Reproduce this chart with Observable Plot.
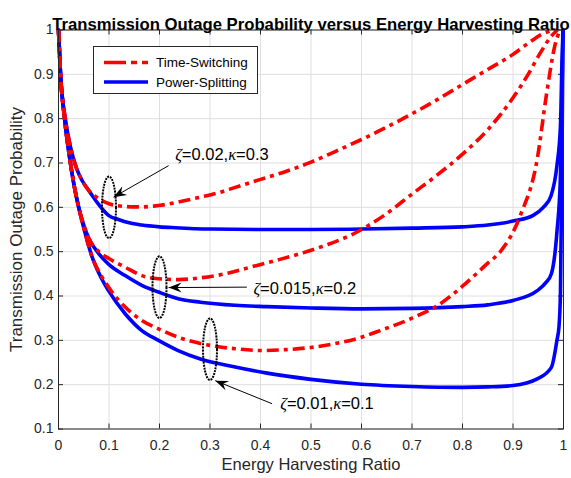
<!DOCTYPE html>
<html><head><meta charset="utf-8">
<script src="https://cdn.jsdelivr.net/npm/d3@7"></script>
<script src="https://cdn.jsdelivr.net/npm/@observablehq/plot@0.6"></script>
<style>
body{margin:0;background:#fff;}
#wrap{position:relative;width:571px;height:478px;font-family:"Liberation Sans",Arial,Helvetica,sans-serif;}
#legend{position:absolute;left:93px;top:46px;width:163px;height:46px;border:1px solid #262626;background:#fff;box-sizing:content-box;}
#legend svg{display:block;}
</style></head><body>
<div id="wrap"><div id="chart"></div><div id="legend"></div></div>
<script>
// ---- data ----
const xTicks = [0,0.1,0.2,0.3,0.4,0.5,0.6,0.7,0.8,0.9,1];
const yTicks = [0.1,0.2,0.3,0.4,0.5,0.6,0.7,0.8,0.9,1];
const seriesNames = ["Time-Switching","Power-Splitting"];
const groupLabels = ["ζ=0.02,κ=0.3","ζ=0.015,κ=0.2","ζ=0.01,κ=0.1"];

// Time-Switching, zeta=0.02, kappa=0.3
const ts03X = [0,0.004,0.0135,0.024,0.035,0.047,0.06,0.072,0.085,0.1,0.115,0.132,0.15,0.165,0.198,0.237,0.281,0.314,0.35,0.4,0.45,0.5,0.55,0.6,0.65,0.7,0.75,0.8,0.85,0.9,0.93,0.956,0.975,0.988];
const ts03Y = [1,0.9,0.8,0.735,0.69,0.66,0.638,0.626,0.616,0.608,0.604,0.602,0.601,0.601,0.604,0.612,0.623,0.632,0.645,0.663,0.681,0.702,0.727,0.753,0.781,0.811,0.843,0.877,0.911,0.945,0.97,0.99,0.998,1];
// Power-Splitting, zeta=0.02, kappa=0.3
const ps03X = [0,0.004,0.0135,0.024,0.035,0.047,0.06,0.066,0.08,0.099,0.12,0.14,0.165,0.2,0.231,0.3,0.4,0.5,0.6,0.7,0.8,0.85,0.9,0.94,0.96,0.975,0.987,0.994,0.997,0.999];
const ps03Y = [1,0.9,0.8,0.735,0.69,0.66,0.638,0.628,0.606,0.582,0.572,0.565,0.56,0.556,0.554,0.551,0.55,0.55,0.551,0.553,0.556,0.56,0.569,0.582,0.6,0.625,0.694,0.785,0.93,1];
// Time-Switching, zeta=0.015, kappa=0.2
const ts02X = [0,0.004,0.012,0.021,0.03,0.04,0.05,0.06,0.08,0.099,0.132,0.165,0.198,0.237,0.281,0.33,0.38,0.43,0.48,0.53,0.58,0.645,0.7,0.75,0.8,0.85,0.9,0.93,0.955,0.975,0.988];
const ts02Y = [1,0.9,0.8,0.72,0.655,0.6,0.56,0.53,0.5,0.485,0.465,0.446,0.439,0.437,0.441,0.45,0.465,0.48,0.496,0.515,0.538,0.582,0.63,0.673,0.72,0.775,0.847,0.9,0.95,0.985,1];
// Power-Splitting, zeta=0.015, kappa=0.2
const ps02X = [0,0.004,0.012,0.021,0.03,0.04,0.05,0.06,0.08,0.099,0.132,0.165,0.198,0.237,0.281,0.35,0.413,0.5,0.6,0.7,0.8,0.85,0.9,0.948,0.965,0.976,0.987,0.994,0.997,0.999];
const ps02Y = [1,0.9,0.8,0.72,0.655,0.6,0.56,0.53,0.495,0.472,0.446,0.424,0.409,0.394,0.386,0.379,0.376,0.373,0.371,0.372,0.376,0.38,0.39,0.412,0.43,0.45,0.544,0.672,0.85,1];
// Time-Switching, zeta=0.01, kappa=0.1
const ts01X = [0,0.004,0.012,0.021,0.03,0.04,0.052,0.066,0.085,0.099,0.132,0.165,0.198,0.237,0.281,0.314,0.35,0.4,0.45,0.5,0.545,0.6,0.637,0.7,0.75,0.8,0.85,0.875,0.915,0.948,0.967,0.983,0.993];
const ts01Y = [1,0.9,0.8,0.72,0.655,0.6,0.545,0.49,0.445,0.42,0.375,0.345,0.326,0.307,0.293,0.286,0.281,0.277,0.279,0.284,0.292,0.307,0.322,0.35,0.378,0.422,0.474,0.5,0.583,0.709,0.86,0.965,1];
// Power-Splitting, zeta=0.01, kappa=0.1
const ps01X = [0,0.004,0.012,0.021,0.03,0.04,0.052,0.066,0.085,0.099,0.132,0.165,0.198,0.237,0.281,0.35,0.413,0.5,0.6,0.7,0.8,0.85,0.9,0.948,0.976,0.987,0.991,0.994,0.997,0.999];
const ps01Y = [1,0.9,0.8,0.72,0.655,0.6,0.545,0.49,0.44,0.412,0.36,0.322,0.3,0.277,0.258,0.24,0.226,0.212,0.201,0.196,0.194,0.195,0.198,0.213,0.239,0.3,0.33,0.409,0.71,1];

// annotation anchors (data coordinates): ellipse centres, arrows, label positions
const ellX = [0.1,0.2,0.3];
const ellY = [0.6,0.42,0.28];
const arrowTailX = [0.218,0.373,0.423];
const arrowTailY = [0.694,0.42,0.157];
const arrowTipX = [0.109,0.218,0.3105];
const arrowTipY = [0.623,0.419,0.209];
const labelX = [0.231,0.386,0.439];
const labelY = [0.719,0.417,0.157];

// ---- build ----
const W=571,H=478,mL=58,mR=8,mT=29.5,mB=49.5;
const plotW=W-mL-mR, plotH=H-mT-mB;
const font='"Liberation Sans", Arial, Helvetica, sans-serif';
const RED="#ff0000", BLUE="#0000ff", INK="#262626";

function rows(xs,ys,name){return xs.map((x,i)=>({x, y:ys[i], series:name}));}
const tsRows = [...rows(ts03X,ts03Y,"ts03"),...rows(ts02X,ts02Y,"ts02"),...rows(ts01X,ts01Y,"ts01")];
const psRows = [...rows(ps03X,ps03Y,"ps03"),...rows(ps02X,ps02Y,"ps02"),...rows(ps01X,ps01Y,"ps01")];

const ellipseSymbol = {draw(ctx){
  const rx=7, ry=30.8, k=0.5523;
  ctx.moveTo(rx,0);
  ctx.bezierCurveTo(rx,ry*k,rx*k,ry,0,ry);
  ctx.bezierCurveTo(-rx*k,ry,-rx,ry*k,-rx,0);
  ctx.bezierCurveTo(-rx,-ry*k,-rx*k,-ry,0,-ry);
  ctx.bezierCurveTo(rx*k,-ry,rx,-ry*k,rx,0);
  ctx.closePath();
}};
function arrowHead(ang){
  const L=13,Wd=10,N=8.5,c=Math.cos(ang),s=Math.sin(ang);
  const pts=[[0,0],[-L,-Wd/2],[-N,0],[-L,Wd/2]].map(([x,y])=>[x*c-y*s,x*s+y*c]);
  return {draw(ctx){ctx.moveTo(pts[0][0],pts[0][1]);for(let i=1;i<pts.length;i++)ctx.lineTo(pts[i][0],pts[i][1]);ctx.closePath();}};
}
const kx=plotW/1, ky=plotH/0.9;
const ellData = ellX.map((x,i)=>({x,y:ellY[i]}));
const arrows = arrowTailX.map((x1,i)=>({x1,y1:arrowTailY[i],x2:arrowTipX[i],y2:arrowTipY[i]}));
const labels = groupLabels.map((t,i)=>({t,x:labelX[i],y:labelY[i]}));

const headMarks = arrows.map(a=>{
  const ang=Math.atan2(-(a.y2-a.y1)*ky,(a.x2-a.x1)*kx);
  return Plot.dot([a],{x:"x2",y:"y2",symbol:arrowHead(ang),r:4,fill:"#000",stroke:"none"});
});

const svg = Plot.plot({
  width:W,height:H,marginLeft:mL,marginRight:mR,marginTop:mT,marginBottom:mB,
  style:{fontFamily:font,fontSize:"14px",color:INK,background:"#fff",overflow:"visible"},
  x:{domain:[0,1]}, y:{domain:[0.1,1]},
  marks:[
    Plot.gridX(xTicks,{stroke:"#dfdfdf",strokeOpacity:1}),
    Plot.gridY(yTicks,{stroke:"#dfdfdf",strokeOpacity:1}),
    Plot.tickX(xTicks,{x:d=>d,insetTop:plotH-5,stroke:INK}),
    Plot.tickX(xTicks,{x:d=>d,insetBottom:plotH-5,stroke:INK}),
    Plot.tickY(yTicks,{y:d=>d,insetRight:plotW-5,stroke:INK}),
    Plot.tickY(yTicks,{y:d=>d,insetLeft:plotW-5,stroke:INK}),
    Plot.axisX({ticks:xTicks,tickSize:0,tickPadding:11,label:null,fontSize:14,tickFormat:d=>String(+d.toFixed(1))}),
    Plot.axisY({ticks:yTicks,tickSize:0,tickPadding:5,label:null,fontSize:14,tickFormat:d=>String(+d.toFixed(1))}),
    Plot.line(psRows,{x:"x",y:"y",z:"series",stroke:BLUE,strokeWidth:3.6,curve:"monotone-x",strokeLinejoin:"round"}),
    Plot.line(tsRows,{x:"x",y:"y",z:"series",stroke:RED,strokeWidth:3.6,curve:"monotone-x",strokeDasharray:"12,5,4,5",strokeLinecap:"butt"}),
    Plot.dot(ellData,{x:"x",y:"y",symbol:ellipseSymbol,r:4,fill:"none",stroke:"#000",strokeWidth:2,strokeDasharray:"2,1"}),
    Plot.link(arrows,{x1:"x1",y1:"y1",x2:"x2",y2:"y2",stroke:"#000",strokeWidth:1}),
    ...headMarks,
    Plot.text(labels,{x:"x",y:"y",text:"t",textAnchor:"start",fontSize:16.5,fill:"#000"}),
    Plot.frame({stroke:INK}),
    Plot.text(["Transmission Outage Probability versus Energy Harvesting Ratio"],{frameAnchor:"top",textAnchor:"middle",dy:-11.5,fontSize:16.7,fontWeight:"bold",fill:"#000"}),
    Plot.text(["Energy Harvesting Ratio"],{frameAnchor:"bottom",textAnchor:"middle",dy:40.5,fontSize:16.5,fill:INK}),
    Plot.text(["Transmission Outage Probability"],{frameAnchor:"left",textAnchor:"middle",dx:-42,rotate:-90,fontSize:17,fill:INK})
  ]
});

// italic Greek letters, TeX-like
d3.select(svg).selectAll("text").each(function(){
  const t=this.textContent; if(!/[ζκ]/.test(t)) return;
  const parts=t.split(/([ζκ])/); this.textContent="";
  for(const p of parts){ if(!p) continue;
    const ts=document.createElementNS("http://www.w3.org/2000/svg","tspan");
    if(/[ζκ]/.test(p)){ts.setAttribute("font-style","italic");ts.setAttribute("font-family",'"Liberation Serif", "DejaVu Serif", serif');}
    ts.textContent=p; this.appendChild(ts);
  }
});
document.getElementById("chart").appendChild(svg);

// legend
const lg=d3.select("#legend").append("svg").attr("width",163).attr("height",46);
const entries=[{name:seriesNames[0],color:RED,dash:"22,5,6,5"},{name:seriesNames[1],color:BLUE,dash:null}];
entries.forEach((e,i)=>{
  const y=15.5+i*19.5;
  lg.append("line").attr("x1",10).attr("x2",54).attr("y1",y).attr("y2",y).attr("stroke",e.color).attr("stroke-width",3.6).attr("stroke-dasharray",e.dash);
  lg.append("text").attr("x",62).attr("y",y+4.8).attr("font-size",13.5).attr("font-family",font).attr("fill","#000").text(e.name);
});
</script></body></html>
